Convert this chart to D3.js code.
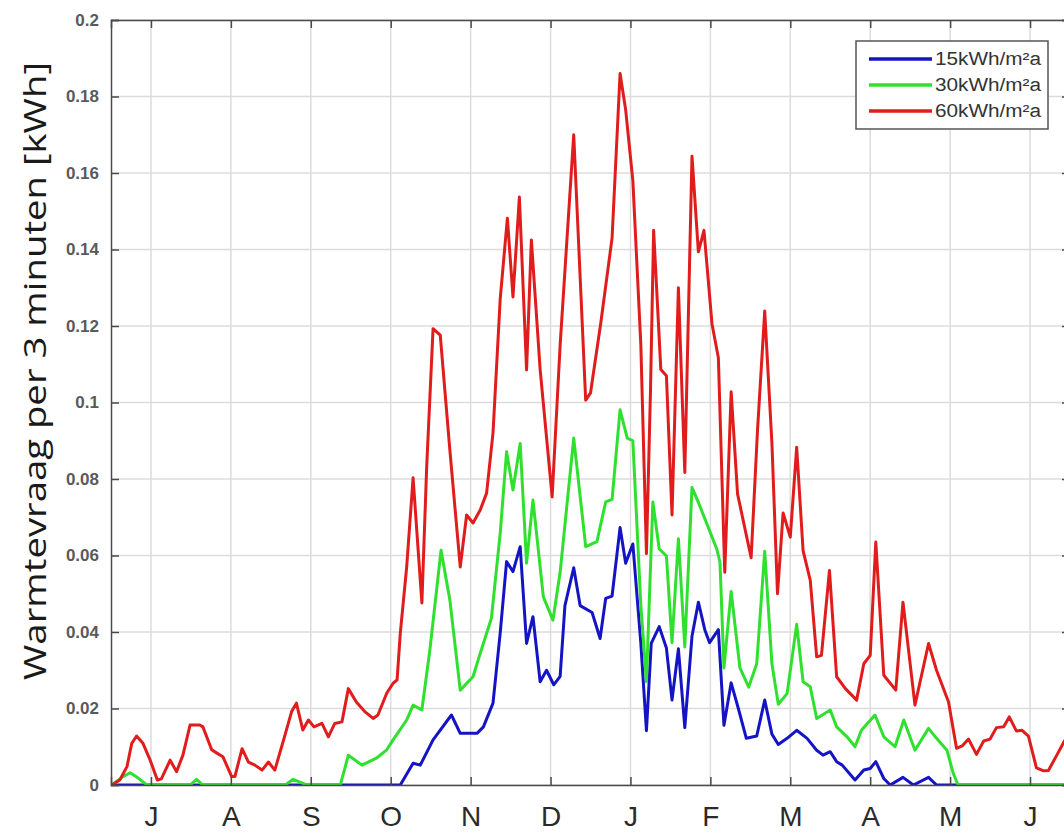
<!DOCTYPE html>
<html>
<head>
<meta charset="utf-8">
<script src="https://cdn.jsdelivr.net/npm/d3@7"></script>
<style>
  html, body { margin: 0; padding: 0; background: #fff; }
  svg { display: block; }
</style>
</head>
<body>
<svg id="chart" width="1064" height="834"></svg>
<script>
// ---------- data ----------
// x = month position (0 = July tick), y = kWh per 3 minutes
const monthLabels = ["J","A","S","O","N","D","J","F","M","A","M","J"];
const yTickValues = [0,0.02,0.04,0.06,0.08,0.1,0.12,0.14,0.16,0.18,0.2];
const seriesNames = ["15kWh/m\u00B2a","30kWh/m\u00B2a","60kWh/m\u00B2a"];
const seriesColors = ["#1414c4","#2fe02f","#e01c1c"];

const blue15 = [
  [-0.49,0],[3.12,0],[3.28,0.0057],[3.37,0.0052],[3.53,0.0118],[3.76,0.0183],[3.87,0.0135],
  [4.08,0.0135],[4.16,0.0152],[4.28,0.0214],[4.37,0.0397],[4.45,0.0584],[4.53,0.0558],
  [4.62,0.0623],[4.70,0.0370],[4.78,0.0440],[4.87,0.0270],[4.95,0.0300],[5.04,0.0262],
  [5.12,0.0284],[5.18,0.0469],[5.29,0.0568],[5.37,0.0469],[5.52,0.0451],[5.62,0.0383],
  [5.69,0.0488],[5.77,0.0494],[5.87,0.0673],[5.94,0.0580],[6.03,0.0630],[6.13,0.0370],
  [6.20,0.0142],[6.26,0.0370],[6.36,0.0414],[6.45,0.0358],[6.52,0.0222],[6.60,0.0356],
  [6.68,0.0150],[6.77,0.0389],[6.85,0.0478],[6.93,0.0406],[6.99,0.0372],[7.10,0.0406],
  [7.17,0.0156],[7.26,0.0267],[7.35,0.0200],[7.45,0.0122],[7.58,0.0128],[7.68,0.0222],
  [7.77,0.0133],[7.85,0.0106],[7.96,0.0122],[8.08,0.0143],[8.21,0.0122],[8.33,0.0091],
  [8.41,0.0078],[8.50,0.0087],[8.58,0.0061],[8.65,0.0052],[8.81,0.0013],[8.92,0.0039],
  [9.00,0.0043],[9.07,0.0061],[9.17,0.0017],[9.25,0],[9.41,0.0020],[9.54,0],[9.73,0.0020],
  [9.83,0],[11.5,0]
];

const green30 = [
  [-0.49,0],[-0.35,0.0022],[-0.26,0.0032],[-0.16,0.0018],[-0.05,0],[0.49,0],[0.57,0.0015],
  [0.65,0],[1.68,0],[1.78,0.0015],[1.95,0],[2.37,0],[2.47,0.0078],[2.64,0.0052],[2.82,0.0070],
  [2.95,0.0092],[3.03,0.0118],[3.20,0.0170],[3.28,0.0209],[3.39,0.0196],[3.49,0.0353],
  [3.63,0.0614],[3.74,0.0484],[3.87,0.0248],[4.03,0.0283],[4.12,0.0344],[4.26,0.0436],
  [4.37,0.0658],[4.45,0.0871],[4.53,0.0771],[4.62,0.0893],[4.70,0.0580],[4.78,0.0745],
  [4.91,0.0492],[5.03,0.0431],[5.12,0.0556],[5.29,0.0907],[5.44,0.0623],[5.58,0.0636],
  [5.69,0.0740],[5.77,0.0747],[5.87,0.0981],[5.96,0.0907],[6.03,0.0900],[6.13,0.0469],
  [6.20,0.0270],[6.28,0.0740],[6.36,0.0617],[6.45,0.0599],[6.52,0.0372],[6.60,0.0644],
  [6.68,0.0361],[6.77,0.0778],[6.85,0.0739],[7.08,0.0617],[7.12,0.0583],[7.17,0.0306],
  [7.26,0.0506],[7.37,0.0306],[7.48,0.0256],[7.58,0.0317],[7.68,0.0611],[7.77,0.0317],
  [7.85,0.0211],[7.96,0.0239],[8.08,0.0420],[8.16,0.0270],[8.25,0.0257],[8.33,0.0174],
  [8.50,0.0196],[8.58,0.0152],[8.71,0.0126],[8.81,0.0100],[8.89,0.0143],[9.06,0.0183],
  [9.17,0.0126],[9.31,0.0100],[9.42,0.0170],[9.56,0.0091],[9.73,0.0148],[9.83,0.0122],
  [9.96,0.0091],[10.04,0.0030],[10.10,0],[11.5,0]
];

const red60 = [
  [-0.49,0],[-0.39,0.0013],[-0.30,0.0048],[-0.24,0.0109],[-0.18,0.0128],[-0.10,0.0109],
  [-0.01,0.0065],[0.08,0.0013],[0.13,0.0016],[0.24,0.0065],[0.32,0.0035],[0.40,0.0078],
  [0.49,0.0157],[0.61,0.0157],[0.65,0.0152],[0.76,0.0092],[0.82,0.0084],[0.90,0.0074],
  [1.01,0.0022],[1.05,0.0022],[1.14,0.0095],[1.22,0.0060],[1.30,0.0052],[1.39,0.0039],
  [1.47,0.0060],[1.55,0.0039],[1.66,0.0118],[1.76,0.0192],[1.82,0.0214],[1.90,0.0144],
  [1.97,0.0170],[2.04,0.0152],[2.14,0.0161],[2.22,0.0126],[2.30,0.0161],[2.39,0.0165],
  [2.47,0.0252],[2.57,0.0217],[2.68,0.0191],[2.78,0.0174],[2.84,0.0183],[2.95,0.0240],
  [3.03,0.0266],[3.08,0.0275],[3.12,0.0397],[3.20,0.0570],[3.28,0.0803],[3.39,0.0476],
  [3.45,0.0831],[3.53,0.1193],[3.62,0.1176],[3.74,0.0876],[3.87,0.0570],[3.95,0.0706],
  [4.03,0.0685],[4.12,0.0719],[4.20,0.0763],[4.28,0.0920],[4.37,0.1270],[4.46,0.1482],
  [4.53,0.1276],[4.61,0.1537],[4.70,0.1085],[4.76,0.1425],[4.87,0.1086],[5.02,0.0753],
  [5.12,0.1150],[5.29,0.1700],[5.44,0.1006],[5.50,0.1025],[5.63,0.1210],[5.77,0.1430],
  [5.87,0.1860],[5.94,0.1765],[6.03,0.1580],[6.13,0.1150],[6.20,0.0605],[6.25,0.1025],
  [6.29,0.1450],[6.38,0.1086],[6.45,0.1070],[6.52,0.0706],[6.60,0.1300],[6.68,0.0817],
  [6.77,0.1644],[6.85,0.1394],[6.92,0.1450],[7.02,0.1206],[7.10,0.1117],[7.18,0.0556],
  [7.26,0.1028],[7.34,0.0761],[7.51,0.0594],[7.59,0.0928],[7.68,0.1239],[7.77,0.0894],
  [7.84,0.0500],[7.91,0.0711],[8.00,0.0648],[8.08,0.0883],[8.16,0.0613],[8.25,0.0535],
  [8.33,0.0335],[8.39,0.0339],[8.49,0.0561],[8.58,0.0283],[8.69,0.0252],[8.83,0.0222],
  [8.92,0.0317],[9.00,0.0339],[9.07,0.0635],[9.17,0.0287],[9.32,0.0248],[9.41,0.0478],
  [9.56,0.0209],[9.73,0.0370],[9.83,0.0300],[9.98,0.0217],[10.08,0.0096],[10.15,0.0102],
  [10.23,0.0120],[10.33,0.0080],[10.42,0.0115],[10.50,0.0120],[10.58,0.0150],[10.67,0.0152],
  [10.74,0.0178],[10.83,0.0141],[10.90,0.0143],[10.98,0.0128],[11.08,0.0045],[11.17,0.0037],
  [11.23,0.0038],[11.34,0.0080],[11.43,0.0115],[11.5,0.0130]
];

const allSeries = [blue15, green30, red60];

// ---------- layout ----------
const svg = d3.select("#chart");
const pL = 111, pR = 1070, pT = 20, pB = 785;

const x = d3.scaleLinear().domain([-0.5, 11.5]).range([pL, pR]);
const y = d3.scaleLinear().domain([0, 0.2]).range([pB, pT]);
const monthTicks = d3.range(monthLabels.length);

svg.append("defs").append("clipPath").attr("id","plotclip")
  .append("rect").attr("x", pL).attr("y", pT).attr("width", pR-pL).attr("height", pB-pT);

// grid
const grid = svg.append("g");
grid.selectAll("line.v").data(monthTicks).join("line").attr("class","v")
  .attr("x1", d => x(d)).attr("x2", d => x(d))
  .attr("y1", pT).attr("y2", pB)
  .attr("stroke", "#dcdcdc").attr("stroke-width", 1.5);
grid.selectAll("line.h").data(yTickValues).join("line").attr("class","h")
  .attr("x1", pL).attr("x2", pR)
  .attr("y1", d => y(d)).attr("y2", d => y(d))
  .attr("stroke", "#dcdcdc").attr("stroke-width", 1.5);

// lines
const line = d3.line().x(d => x(d[0])).y(d => y(d[1]));
const plot = svg.append("g").attr("clip-path","url(#plotclip)");
allSeries.forEach((s, i) => {
  plot.append("path").datum(s)
    .attr("d", line)
    .attr("fill","none")
    .attr("stroke", seriesColors[i])
    .attr("stroke-width", 3)
    .attr("stroke-linejoin","round")
    .attr("stroke-linecap","round");
});

// axes (box)
const axisColor = "#4a4a4a";
const yAxis = d3.axisLeft(y).tickValues(yTickValues)
  .tickSize(-8).tickPadding(12)
  .tickFormat(d => String(+d.toFixed(2)));
const gy = svg.append("g").attr("transform", `translate(${pL},0)`).call(yAxis);
gy.select(".domain").attr("stroke", axisColor).attr("stroke-width", 1.5);
gy.selectAll(".tick line").attr("stroke", axisColor).attr("stroke-width", 1.5);
gy.selectAll(".tick text")
  .attr("font-family", "'Liberation Sans', Arial, sans-serif")
  .attr("font-size", 17).attr("fill", "#5a5a5a").attr("font-weight", "bold");

const gyr = svg.append("g").attr("transform", `translate(${pR},0)`)
  .call(d3.axisRight(y).tickValues(yTickValues).tickSize(-8).tickFormat(""));
gyr.select(".domain").attr("stroke", axisColor).attr("stroke-width", 1.5);
gyr.selectAll(".tick line").attr("stroke", axisColor).attr("stroke-width", 1.5);

const xAxis = d3.axisBottom(x).tickValues(monthTicks)
  .tickSize(-8).tickPadding(0)
  .tickFormat((d, i) => monthLabels[i]);
const gx = svg.append("g").attr("transform", `translate(0,${pB})`).call(xAxis);
gx.select(".domain").attr("stroke", axisColor).attr("stroke-width", 1.5);
gx.selectAll(".tick line").attr("stroke", axisColor).attr("stroke-width", 1.5);
gx.selectAll(".tick text")
  .attr("font-family", "'Liberation Sans', Arial, sans-serif")
  .attr("font-size", 28).attr("fill", "#2a2a2a")
  .attr("dy", null).attr("y", 41);

const gxt = svg.append("g").attr("transform", `translate(0,${pT})`)
  .call(d3.axisTop(x).tickValues(monthTicks).tickSize(-8).tickFormat(""));
gxt.select(".domain").attr("stroke", axisColor).attr("stroke-width", 1.5);
gxt.selectAll(".tick line").attr("stroke", axisColor).attr("stroke-width", 1.5);

// y-axis title
svg.append("text")
  .attr("transform", `translate(46,${(62+680)/2}) rotate(-90)`)
  .attr("text-anchor","middle")
  .attr("font-family", "'Open Sans', 'Noto Sans', sans-serif")
  .attr("font-size", 31)
  .attr("fill", "#1a1a1a")
  .attr("textLength", 618).attr("lengthAdjust", "spacingAndGlyphs")
  .text("Warmtevraag per 3 minuten [kWh]");

// legend
const lg = svg.append("g").attr("transform", "translate(856,41)");
lg.append("rect").attr("width", 192).attr("height", 88)
  .attr("fill", "#fff").attr("stroke", "#555").attr("stroke-width", 1.5);
seriesNames.forEach((name, i) => {
  const yy = 18 + i * 26;
  lg.append("line").attr("x1", 13).attr("x2", 76).attr("y1", yy).attr("y2", yy)
    .attr("stroke", seriesColors[i]).attr("stroke-width", 3.5);
  lg.append("text").attr("x", 79).attr("y", yy + 6)
    .attr("font-family", "'Liberation Sans', Arial, sans-serif")
    .attr("font-size", 18).attr("fill", "#333")
    .attr("textLength", 106).attr("lengthAdjust", "spacingAndGlyphs")
    .text(name);
});
</script>
</body>
</html>
